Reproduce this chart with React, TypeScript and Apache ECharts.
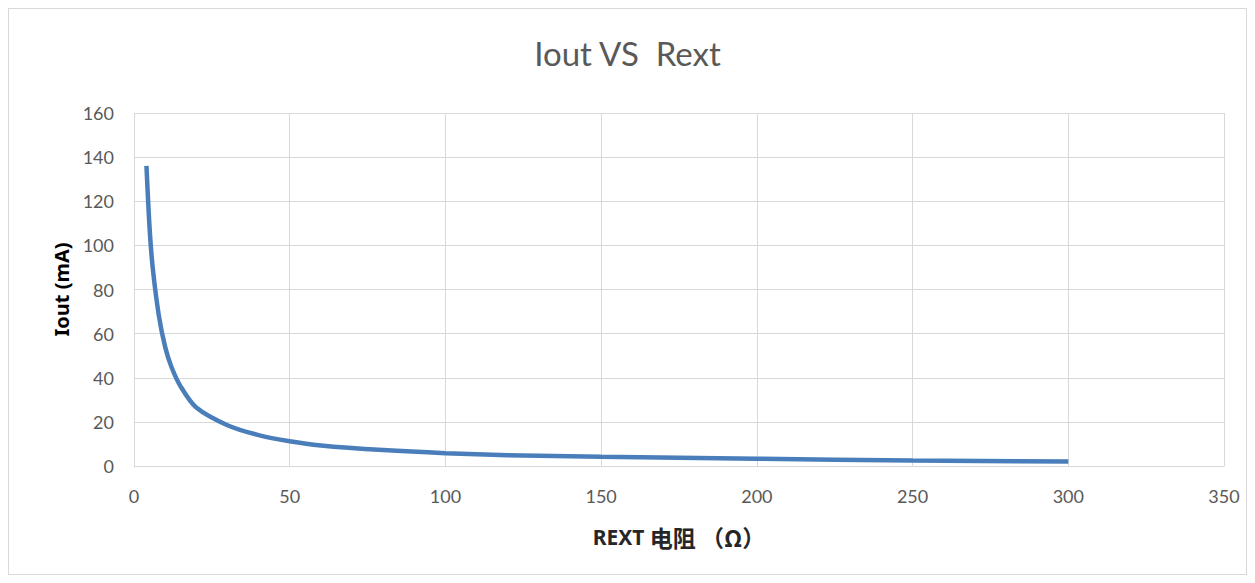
import React, { useEffect, useRef } from "react";
import * as echarts from "echarts";

const titleText = "Iout VS  Rext";
const xAxisNameLatin = "REXT";
const xAxisNameCjk = "电阻 （Ω）";
const yAxisName = "Iout (mA)";

const rext = [4, 5, 6, 8, 10, 12, 15, 20, 30, 40, 50, 60, 80, 100, 120, 150, 200, 250, 300];
const iout = [136, 108, 90, 68, 54, 45, 36, 26.5, 18.5, 14, 11.2, 9.3, 7.2, 5.8, 4.9, 4.2, 3.3, 2.5, 2.0];

export default function App() {
  const ref = useRef<HTMLDivElement>(null);
  useEffect(() => {
    if (!ref.current) return;
    const chart = echarts.init(ref.current, null, { renderer: "svg" });
    const tickColor = "#595959";
    const gridColor = "#d9d9d9";
    chart.setOption({
      animation: false,
      backgroundColor: "#ffffff",
      title: {
        text: titleText,
        left: "center",
        top: 22,
        textStyle: {
          fontFamily: "Lato",
          fontWeight: "normal",
          fontSize: 33,
          color: tickColor,
        },
      },
      grid: { left: 125, top: 104, width: 1090, height: 353, containLabel: false },
      xAxis: {
        type: "value",
        min: 0,
        max: 350,
        interval: 50,
        name: "{a|" + xAxisNameLatin + "} {b|" + xAxisNameCjk + "}",
        nameLocation: "middle",
        nameGap: 59,
        nameTextStyle: {
          fontFamily: "Noto Sans CJK SC",
          fontWeight: "bold",
          fontSize: 23,
          color: "#262626",
          rich: {
            a: { fontFamily: "Noto Sans", fontWeight: "bold", fontSize: 21, color: "#262626" },
            b: { fontFamily: "Noto Sans CJK SC", fontWeight: "bold", fontSize: 23, color: "#262626" },
          },
        },
        axisLine: { show: true, lineStyle: { color: gridColor, width: 1 } },
        axisTick: { show: false },
        axisLabel: { color: tickColor, fontSize: 18, fontFamily: "Lato", margin: 21 },
        splitLine: { show: true, lineStyle: { color: gridColor, width: 1 } },
      },
      yAxis: {
        type: "value",
        min: 0,
        max: 160,
        interval: 20,
        name: yAxisName,
        nameLocation: "middle",
        nameGap: 56,
        nameRotate: 90,
        nameTextStyle: { fontFamily: "Noto Sans", fontWeight: "bold", fontSize: 20, color: "#000000" },
        axisLine: { show: false },
        axisTick: { show: false },
        axisLabel: { color: tickColor, fontSize: 18, fontFamily: "Lato", margin: 20 },
        splitLine: { show: true, lineStyle: { color: gridColor, width: 1 } },
      },
      series: [
        {
          type: "line",
          data: rext.map((r, i) => [r, iout[i]]),
          smooth: 0.3,
          showSymbol: false,
          symbol: "none",
          lineStyle: { color: "#4a7ebb", width: 4.5 },
        },
      ],
    });
    return () => chart.dispose();
  }, []);
  return (
    <div
      ref={ref}
      style={{
        width: 1239,
        height: 567,
        border: "1px solid #d9d9d9",
        boxSizing: "border-box",
      }}
    />
  );
}
